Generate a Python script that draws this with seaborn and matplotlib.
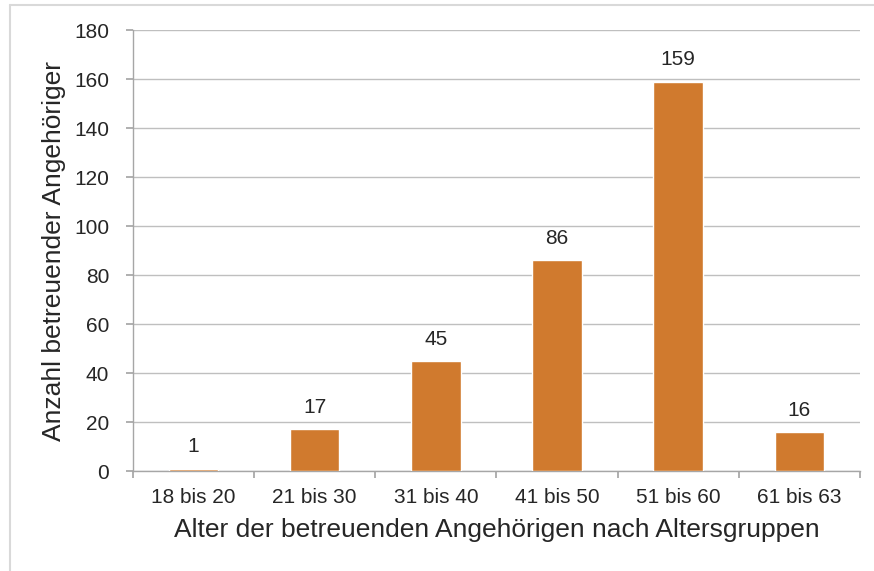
import numpy as np
import pandas as pd
import seaborn as sns
import matplotlib.pyplot as plt
from matplotlib.lines import Line2D

# Data
altersgruppen = ["18 bis 20", "21 bis 30", "31 bis 40", "41 bis 50", "51 bis 60", "61 bis 63"]
anzahl = [1, 17, 45, 86, 159, 16]

df = pd.DataFrame({"Altersgruppe": altersgruppen, "Anzahl": anzahl})

sns.set_theme(style="white")
plt.rcParams["font.family"] = ["Liberation Sans", "DejaVu Sans"]

fig = plt.figure(figsize=(8.74, 5.71), dpi=100)
ax = fig.add_axes([0.152, 0.175, 0.832, 0.772])

# light frame (left and top edges) around the chart
fx, fy = 10 / 874, 1 - 5 / 571
fig.add_artist(Line2D([fx, fx], [0, fy], transform=fig.transFigure, color="#d9d9d9", lw=1.5))
fig.add_artist(Line2D([fx, 1], [fy, fy], transform=fig.transFigure, color="#d9d9d9", lw=1.5))

sns.barplot(data=df, x="Altersgruppe", y="Anzahl", color="#d07a2e",
            saturation=1, width=0.41, ax=ax, zorder=3)

for i, v in enumerate(anzahl):
    ax.text(i, v + 5, str(v), ha="center", va="bottom", fontsize=15, color="#262626")

ax.set_ylim(0, 180)
ax.set_yticks(range(0, 181, 20))
ax.set_xlim(-0.5, len(altersgruppen) - 0.5)
ax.yaxis.grid(True, color="#bfbfbf", linewidth=1, zorder=0)
ax.set_axisbelow(True)

for s in ["top", "right"]:
    ax.spines[s].set_visible(False)
for s in ["left", "bottom"]:
    ax.spines[s].set_color("#a6a6a6")
    ax.spines[s].set_linewidth(1)

# x ticks between categories
ax.set_xticks(np.arange(-0.5, len(altersgruppen), 1.0), minor=False)
ax.set_xticklabels([])
ax.set_xticks(range(len(altersgruppen)), minor=True)
ax.set_xticklabels(altersgruppen, minor=True, fontsize=15, color="#262626")
ax.tick_params(axis="x", which="major", direction="out", length=5, color="#a6a6a6", bottom=True)
ax.tick_params(axis="x", which="minor", length=0, pad=12)
ax.tick_params(axis="y", direction="out", length=5, color="#a6a6a6", left=True,
               labelsize=15, labelcolor="#262626", pad=12)

ax.set_xlabel("Alter der betreuenden Angehörigen nach Altersgruppen", fontsize=19, color="#262626", labelpad=8)
ax.set_ylabel("Anzahl betreuender Angehöriger", fontsize=19, color="#262626", labelpad=6)

fig.savefig("out.png", dpi=100)
